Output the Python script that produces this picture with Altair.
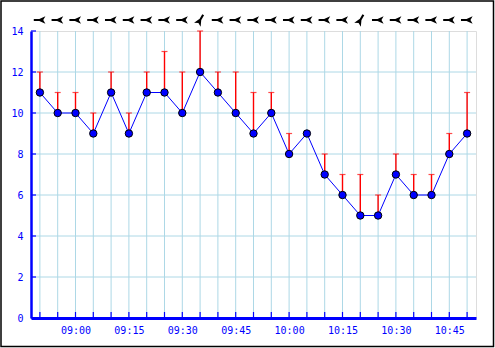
import altair as alt
import pandas as pd

times = ["08:50", "08:55", "09:00", "09:05", "09:10", "09:15", "09:20", "09:25",
         "09:30", "09:35", "09:40", "09:45", "09:50", "09:55", "10:00", "10:05",
         "10:10", "10:15", "10:20", "10:25", "10:30", "10:35", "10:40", "10:45", "10:50"]
avg_speed = [11, 10, 10, 9, 11, 9, 11, 11, 10, 12, 11, 10, 9, 10, 8, 9,
             7, 6, 5, 5, 7, 6, 6, 8, 9]
gust_speed = [12, 11, 11, 10, 12, 10, 12, 13, 12, 14, 12, 12, 11, 11, 9, 9,
              8, 7, 7, 6, 8, 7, 7, 9, 11]
arrow_angle = [0, 0, 0, 0, 0, 0, 0, 0, 0, 120, 0, 0, 0, 0, 0, 0,
               0, 0, 120, 0, 0, 0, 0, 0, 0]
y_ticks = [0, 2, 4, 6, 8, 10, 12, 14]
y_grid = [2, 4, 6, 8, 10, 12]

def to_min(t):
    h, m = t.split(":")
    return int(h) * 60 + int(m)

df = pd.DataFrame({
    "time": times,
    "min": [to_min(t) for t in times],
    "avg": avg_speed,
    "gust": gust_speed,
    "angle": arrow_angle,
})
df_err = df[df["gust"] > df["avg"]]
df_ygrid = pd.DataFrame({"v": y_grid})
df_yticks = pd.DataFrame({"v": y_ticks})

W, H = 445, 287
BLUE = "#0000ff"
GRID = "#add8e6"
FONT = "DejaVu Sans Mono"

quarter = [m for m in df["min"] if m % 15 == 0]
label_expr = ("(floor(datum.value/60) < 10 ? '0' : '') + floor(datum.value/60) + ':' + "
              "(datum.value % 60 < 10 ? '0' : '') + (datum.value % 60)")

xscale = alt.Scale(domain=[527.5, 652.5], nice=False, zero=False)
yscale = alt.Scale(domain=[0, 14], nice=False)

x_axis = alt.Axis(values=quarter, labelExpr=label_expr, grid=False, ticks=False,
                  tickSize=0, domainColor=BLUE, domainWidth=3, labelColor=BLUE,
                  labelFont=FONT, labelFontSize=10, labelPadding=7, title=None,
                  zindex=2)
y_axis = alt.Axis(values=y_ticks, grid=False, ticks=False, tickSize=0,
                  domainColor=BLUE, domainWidth=2.5, labelColor=BLUE,
                  labelFont=FONT, labelFontSize=10, labelPadding=8, title=None,
                  zindex=2)

base = alt.Chart(df)

vgrid = base.mark_rule(color=GRID, strokeWidth=1).encode(
    x=alt.X("min:Q", scale=xscale, axis=x_axis),
    y=alt.value(0), y2=alt.value(H))

hgrid = alt.Chart(df_ygrid).mark_rule(color=GRID, strokeWidth=1).encode(
    y=alt.Y("v:Q", scale=yscale, axis=y_axis),
    x=alt.value(0), x2=alt.value(W))

xticks = base.mark_rule(color=BLUE, strokeWidth=1.2).encode(
    x=alt.X("min:Q", scale=xscale),
    y=alt.value(H - 6), y2=alt.value(H))

yticks = alt.Chart(df_yticks).mark_rule(color=BLUE, strokeWidth=1.2).encode(
    y=alt.Y("v:Q", scale=yscale),
    x=alt.value(0), x2=alt.value(5))

err = alt.Chart(df_err).mark_rule(color="red", strokeWidth=1.4).encode(
    x=alt.X("min:Q", scale=xscale),
    y=alt.Y("avg:Q", scale=yscale),
    y2="gust:Q")

caps = alt.Chart(df_err).mark_tick(color="red", orient="horizontal", size=6,
                                   thickness=1.2).encode(
    x=alt.X("min:Q", scale=xscale),
    y=alt.Y("gust:Q", scale=yscale))

line = base.mark_line(color=BLUE, strokeWidth=1).encode(
    x=alt.X("min:Q", scale=xscale),
    y=alt.Y("avg:Q", scale=yscale))

pts = base.mark_point(filled=True, fill=BLUE, stroke="black", strokeWidth=1,
                      size=55, opacity=1, shape="circle").encode(
    x=alt.X("min:Q", scale=xscale),
    y=alt.Y("avg:Q", scale=yscale))

arrow_path = ("M-1,-0.17 L-0.1,-0.17 L-0.1,0.17 L-1,0.17 Z "
              "M-0.45,0 L0.9,-0.62 L0.55,0 L0.9,0.62 Z")
arrows = base.mark_point(shape=arrow_path, filled=True, color="black",
                         size=150, opacity=1).encode(
    x=alt.X("min:Q", scale=xscale),
    y=alt.value(-11),
    angle=alt.Angle("angle:Q", scale=None))

border = alt.Chart(pd.DataFrame({"a": [0]})).mark_rect(
    fill=None, fillOpacity=0, stroke="black", strokeWidth=1.5).encode(
    x=alt.value(-30), x2=alt.value(462.5),
    y=alt.value(-30), y2=alt.value(315.5))

chart = alt.layer(vgrid, hgrid, xticks, yticks, err, caps, line, pts, arrows,
                  border).properties(
    width=W, height=H,
    autosize=alt.AutoSizeParams(type="none"),
    padding={"left": 31, "top": 31, "right": 19, "bottom": 30},
).configure_view(stroke=None).configure(background="white")

chart.save("out.html", embed_options={"renderer": "svg", "actions": False})
